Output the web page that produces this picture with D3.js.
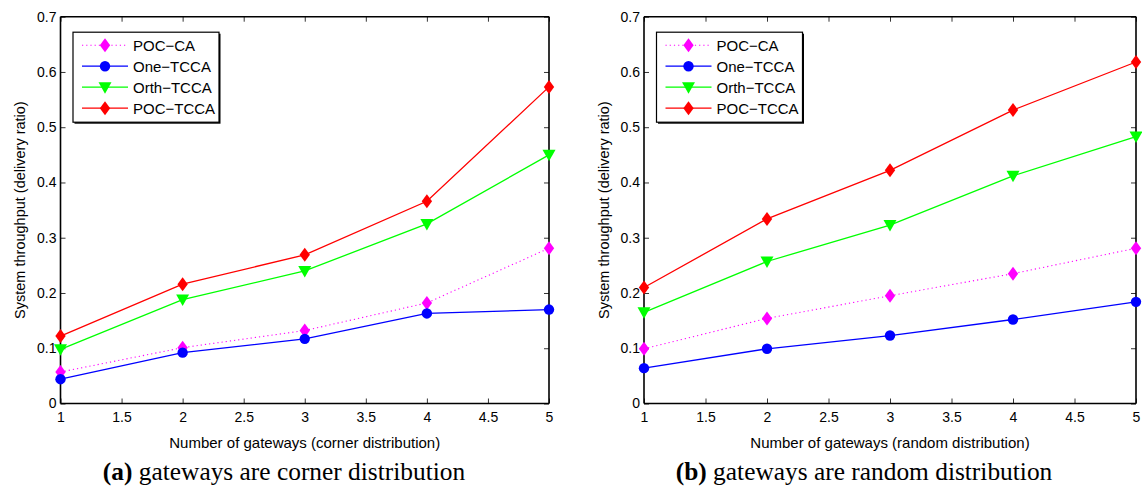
<!DOCTYPE html>
<html>
<head>
<meta charset="utf-8">
<script src="https://cdn.jsdelivr.net/npm/d3@7"></script>
<style>
  body { margin: 0; background: #fff; }
  text { font-family: "Liberation Sans", Arial, sans-serif; }
</style>
</head>
<body>
<svg width="1142" height="492"></svg>
<script>
// data
const gateways = [1, 2, 3, 4, 5];
const seriesNames = ["POC−CA", "One−TCCA", "Orth−TCCA", "POC−TCCA"];

// (a) corner distribution
const cornerPocCa   = [0.057, 0.101, 0.132, 0.182, 0.281];
const cornerOne     = [0.044, 0.092, 0.117, 0.163, 0.170];
const cornerOrth    = [0.098, 0.188, 0.240, 0.325, 0.450];
const cornerPocTcca = [0.122, 0.216, 0.269, 0.366, 0.573];

// (b) random distribution
const randomPocCa   = [0.099, 0.154, 0.195, 0.235, 0.281];
const randomOne     = [0.064, 0.099, 0.123, 0.152, 0.184];
const randomOrth    = [0.165, 0.257, 0.323, 0.412, 0.483];
const randomPocTcca = [0.210, 0.334, 0.422, 0.531, 0.618];

const xTicks = [1, 1.5, 2, 2.5, 3, 3.5, 4, 4.5, 5];
const yTicks = [0, 0.1, 0.2, 0.3, 0.4, 0.5, 0.6, 0.7];

const colors = ["#ff00ff", "#0000ff", "#00ff00", "#ff0000"];
const markers = ["diamond", "circle", "triangle", "diamond"];

const svg = d3.select("svg");

const panels = [
    { left: 60.5, right: 549, xLabel: "Number of gateways (corner distribution)",
      capTag: "(a)", capText: " gateways are corner distribution", capX: 284,
      series: [cornerPocCa, cornerOne, cornerOrth, cornerPocTcca] },
    { left: 644, right: 1136, xLabel: "Number of gateways (random distribution)",
      capTag: "(b)", capText: " gateways are random distribution", capX: 864,
      series: [randomPocCa, randomOne, randomOrth, randomPocTcca] }
];

const plotTop = 16.7, plotBottom = 403.5;

function drawMarker(g, type, x, y, color) {
    if (type === "circle") {
        g.append("circle").attr("cx", x).attr("cy", y).attr("r", 5.2).attr("fill", color);
    } else if (type === "diamond") {
        g.append("path")
            .attr("d", `M${x},${y - 7}L${x + 5.2},${y}L${x},${y + 7}L${x - 5.2},${y}Z`)
            .attr("fill", color);
    } else {
        g.append("path")
            .attr("d", `M${x - 6.5},${y - 5}L${x + 6.5},${y - 5}L${x},${y + 6.5}Z`)
            .attr("fill", color);
    }
}

panels.forEach(p => {
    const x = d3.scaleLinear().domain([1, 5]).range([p.left, p.right]);
    const y = d3.scaleLinear().domain([0, 0.7]).range([plotBottom, plotTop]);
    const g = svg.append("g");

    // axes with inward ticks on all four sides (box)
    const bottomAxis = g.append("g").attr("transform", `translate(0,${plotBottom})`)
        .call(d3.axisBottom(x).tickValues(xTicks).tickSize(-5).tickPadding(9)
            .tickFormat(d => d3.format("")(d)));
    const topAxis = g.append("g").attr("transform", `translate(0,${plotTop})`)
        .call(d3.axisTop(x).tickValues(xTicks).tickSize(-5).tickFormat(""));
    const leftAxis = g.append("g").attr("transform", `translate(${p.left},0)`)
        .call(d3.axisLeft(y).tickValues(yTicks).tickSize(-5).tickPadding(4)
            .tickFormat(d => d === 0 ? "0" : d3.format(".1f")(d)));
    const rightAxis = g.append("g").attr("transform", `translate(${p.right},0)`)
        .call(d3.axisRight(y).tickValues(yTicks).tickSize(-5).tickFormat(""));

    [bottomAxis, topAxis, leftAxis, rightAxis].forEach(a => {
        a.select(".domain").attr("stroke", "#000").attr("stroke-width", 1.6);
        a.selectAll(".tick line").attr("stroke", "#000").attr("stroke-width", 0.8);
        a.selectAll("text").attr("font-size", 14).attr("fill", "#000")
            .attr("font-family", "Liberation Sans, Arial, sans-serif");
    });
    leftAxis.select(".domain").attr("d", `M0,${plotTop}V${plotBottom}`);
    bottomAxis.select(".domain").attr("d", `M${p.left},0H${p.right}`);
    topAxis.select(".domain").attr("d", `M${p.left},0H${p.right}`);
    rightAxis.select(".domain").attr("d", `M0,${plotTop}V${plotBottom}`);

    // axis labels
    g.append("text")
        .attr("x", (p.left + p.right) / 2).attr("y", 447.5)
        .attr("text-anchor", "middle").attr("font-size", 15)
        .text(p.xLabel);
    g.append("text")
        .attr("transform", `translate(${p.left - 35.5},${(plotTop + plotBottom) / 2}) rotate(-90)`)
        .attr("text-anchor", "middle").attr("font-size", 14.5)
        .text("System throughput (delivery ratio)");

    // lines and markers
    const line = d3.line().x((d, i) => x(gateways[i])).y(d => y(d));
    p.series.forEach((vals, s) => {
        g.append("path").datum(vals)
            .attr("d", line)
            .attr("fill", "none")
            .attr("stroke", colors[s])
            .attr("stroke-width", s === 0 ? 1.1 : 1.3)
            .attr("stroke-dasharray", s === 0 ? "1.2,3" : null);
    });
    p.series.forEach((vals, s) => {
        vals.forEach((v, i) => drawMarker(g, markers[s], x(gateways[i]), y(v), colors[s]));
    });

    // legend
    const lg = g.append("g").attr("transform", `translate(${p.left + 12.5},${plotTop + 15.5})`);
    lg.append("rect").attr("x", 1.5).attr("y", 1.5).attr("width", 146).attr("height", 90)
        .attr("fill", "#000");
    lg.append("rect").attr("width", 146).attr("height", 90)
        .attr("fill", "#fff").attr("stroke", "#000").attr("stroke-width", 1.2);
    seriesNames.forEach((name, s) => {
        const ry = 13 + s * 21;
        lg.append("line").attr("x1", 9).attr("x2", 55).attr("y1", ry).attr("y2", ry)
            .attr("stroke", colors[s]).attr("stroke-width", s === 0 ? 1.1 : 1.3)
            .attr("stroke-dasharray", s === 0 ? "1.2,3" : null);
        drawMarker(lg, markers[s], 32, ry, colors[s]);
        lg.append("text").attr("x", 60).attr("y", ry + 5.5)
            .attr("font-size", 15).text(name);
    });

    // caption
    const cap = svg.append("text")
        .attr("x", p.capX).attr("y", 480)
        .attr("text-anchor", "middle")
        .attr("font-size", 25.4)
        .style("font-family", "Liberation Serif, Times New Roman, serif");
    cap.append("tspan").attr("font-weight", "bold").text(p.capTag);
    cap.append("tspan").text(p.capText);
});
</script>
</body>
</html>
